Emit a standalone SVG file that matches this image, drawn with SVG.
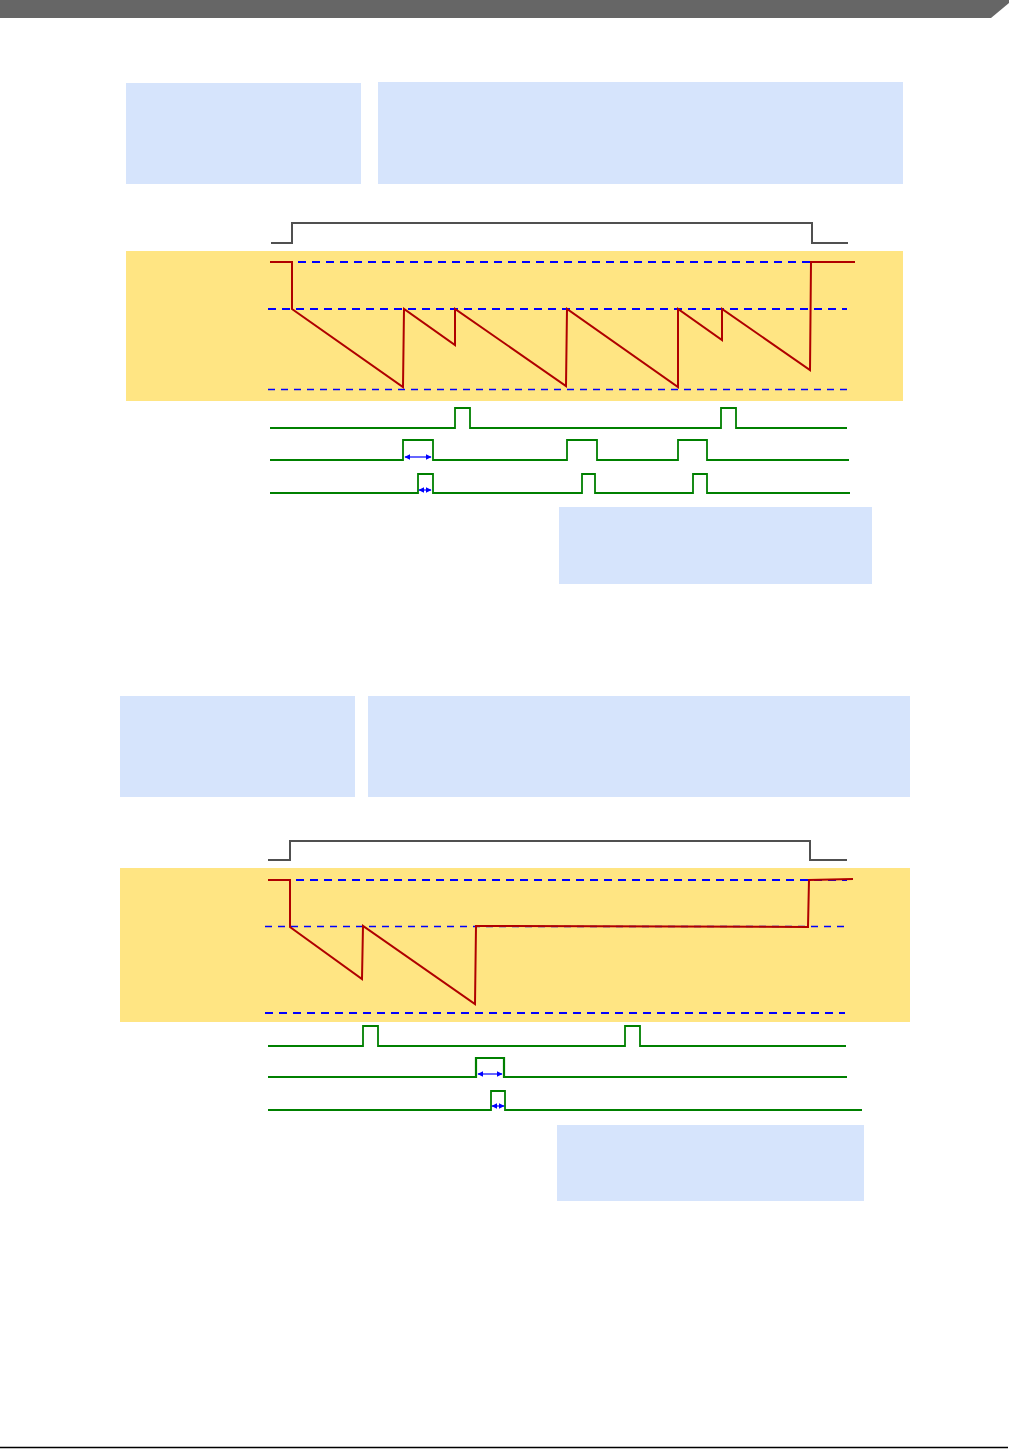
<svg xmlns="http://www.w3.org/2000/svg" width="1009" height="1449" viewBox="0 0 1009 1449">
<style>
.box{fill:#D6E4FC}
.band{fill:#FFE583}
.clk{fill:none;stroke:#505050;stroke-width:2}
.thr{fill:none;stroke:#0000FF;stroke-width:2.2;stroke-dasharray:8,6}
.thr1{fill:none;stroke:#0000FF;stroke-width:1.3;stroke-dasharray:7,6}
.wave{fill:none;stroke:#B00000;stroke-width:2;stroke-linejoin:miter}
.sig{fill:none;stroke:#008000;stroke-width:1.8}
.dim{fill:none;stroke:#0000FF;stroke-width:1.2;marker-start:url(#ah);marker-end:url(#ah)}
</style>
<defs>
<marker id="ah" viewBox="0 0 10 10" refX="9" refY="5" markerWidth="6" markerHeight="6" markerUnits="userSpaceOnUse" orient="auto-start-reverse">
<path d="M0,0 L10,5 L0,10 z" fill="#0000FF"/>
</marker>
</defs>
<rect width="1009" height="1449" fill="#FFFFFF"/>
<g id="header"><polygon points="0,0 1009,0 1009,3 991,18 0,18" fill="#666666"/></g>
<g id="footer"><line x1="0" y1="1447.5" x2="1008" y2="1447.5" stroke="#000" stroke-width="1.5"/></g>

<g id="diagram1">
<rect id="box1a" class="box" x="126" y="83" width="235" height="101"/>
<rect id="box1b" class="box" x="378" y="82" width="525" height="102"/>
<rect id="box1c" class="box" x="559" y="507" width="313" height="77"/>
<rect id="band1" class="band" x="126" y="251" width="777" height="150"/>
<polyline class="clk" points="271,243 292,243 292,223 812,223 812,243 848,243"/>
<line class="thr" x1="270" y1="262" x2="848" y2="262"/>
<line class="thr" x1="268" y1="309" x2="847" y2="309"/>
<line class="thr1" x1="268" y1="389.5" x2="847" y2="389.5"/>
<polyline class="wave" points="270,262 292,262 292,309 403,387 404,309 455,345 455,309 566,386 567,309 678,387 678,309 722,340 722,309 810,370 811,262 855,262"/>
<polyline class="sig" points="270,428 455,428 455,408 470,408 470,428 721,428 721,408 736,408 736,428 847,428"/>
<polyline class="sig" points="270,460 403,460 403,440 433,440 433,460 567,460 567,440 597,440 597,460 678,460 678,440 707,440 707,460 849,460"/>
<polyline class="sig" points="270,493 418,493 418,474 433,474 433,493 582,493 582,474 595,474 595,493 693,493 693,474 707,474 707,493 850,493"/>
<line class="dim" x1="405" y1="457" x2="431" y2="457"/>
<line class="dim" x1="419" y1="490" x2="431" y2="490"/>
</g>

<g id="diagram2">
<rect id="box2a" class="box" x="120" y="696" width="235" height="101"/>
<rect id="box2b" class="box" x="368" y="696" width="542" height="101"/>
<rect id="box2c" class="box" x="557" y="1125" width="307" height="76"/>
<rect id="band2" class="band" x="120" y="868" width="790" height="154"/>
<polyline class="clk" points="268,860 290,860 290,841 810,841 810,860 847,860"/>
<line class="thr" x1="268" y1="880" x2="847" y2="880"/>
<line class="thr1" x1="265" y1="926.5" x2="845" y2="926.5"/>
<line class="thr" x1="265" y1="1013" x2="845" y2="1013"/>
<polyline class="wave" points="268,880 290,880 290,927 362,979 363,926 475,1004 476,926 808,927 809,880 853,879"/>
<polyline class="sig" points="268,1046 363,1046 363,1026 378,1026 378,1046 625,1046 625,1026 640,1026 640,1046 846,1046"/>
<polyline class="sig" style="stroke-width:2.2" points="268,1077 476,1077 476,1058 504,1058 504,1077 847,1077"/>
<polyline class="sig" points="268,1110 491,1110 491,1091 505,1091 505,1110 862,1110"/>
<line class="dim" x1="478" y1="1074" x2="502" y2="1074"/>
<line class="dim" x1="492" y1="1106" x2="504" y2="1106"/>
</g>
</svg>
